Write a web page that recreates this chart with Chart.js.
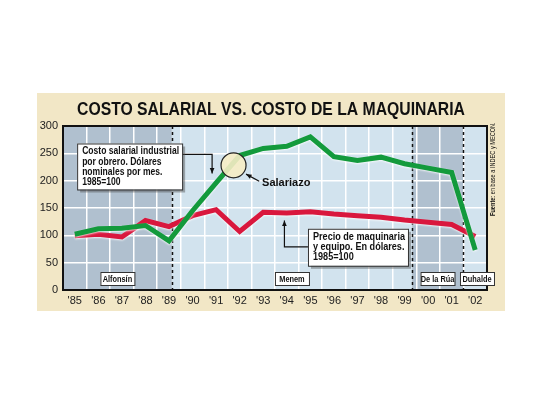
<!DOCTYPE html>
<html>
<head>
<meta charset="utf-8">
<script src="https://cdn.jsdelivr.net/npm/chart.js@4.4.1/dist/chart.umd.min.js"></script>
<style>
  html, body { margin: 0; padding: 0; background: #ffffff; }
  #wrap { width: 540px; height: 405px; }
</style>
</head>
<body>
<div id="wrap"><canvas id="chart" width="540" height="405"></canvas></div>
<script>
// Dati (1985 = 100)
const years = ["'85", "'86", "'87", "'88", "'89", "'90", "'91", "'92", "'93", "'94", "'95", "'96", "'97", "'98", "'99", "'00", "'01", "'02"];
const costoSalarial = [102, 112, 113, 118, 90, 145, 196, 246, 259, 263, 280, 244, 237, 243, 231, 223, 215, 73];
const precioMaquinaria = [99, 102, 97, 127, 116, 136, 147, 107, 142, 141, 143, 139, 136, 133, 128, 124, 120, 98];
const yTicks = [0, 50, 100, 150, 200, 250, 300];

// Gobiernos: inicio de cada período sobre el eje de años (posición decimal)
const gobiernos = ['Alfonsín', 'Menem', 'De la Rúa', 'Duhalde'];
const inicioGobierno = [-0.5, 4.12, 14.32, 16.48];

const PANEL = '#f2e7c6';
const OSCURO = '#b0c0cf';
const CLARO = '#d2e3ee';
const FUENTE = '"Liberation Sans", Arial, sans-serif';

// Scrive un testo comprimendolo in orizzontale se supera maxW
function textoAjustado(ctx, s, x, y, maxW, k) {
  const w = ctx.measureText(s).width;
  const f = k || Math.min(1, maxW / w);
  ctx.save();
  ctx.translate(x, y);
  ctx.scale(f, 1);
  ctx.fillText(s, 0, 0);
  ctx.restore();
}

// Sfondo, periodi e annotazioni
const decoraciones = {
  id: 'decoraciones',
  beforeDraw(chart) {
    const { ctx, chartArea: a, scales: { x } } = chart;
    ctx.save();
    ctx.fillStyle = PANEL;
    ctx.fillRect(37, 93, 468, 218);
    inicioGobierno.forEach((ini, i) => {
      const x0 = i === 0 ? a.left : x.getPixelForValue(ini);
      const x1 = i < inicioGobierno.length - 1 ? x.getPixelForValue(inicioGobierno[i + 1]) : a.right;
      ctx.fillStyle = i % 2 === 0 ? OSCURO : CLARO;
      ctx.fillRect(x0, a.top, x1 - x0, a.bottom - a.top);
    });
    // Titolo
    ctx.fillStyle = '#111';
    ctx.font = 'bold 18px ' + FUENTE;
    ctx.textAlign = 'center';
    ctx.textBaseline = 'middle';
    textoAjustado(ctx, 'COSTO SALARIAL VS. COSTO DE LA MAQUINARIA', 271, 110, 388);
    ctx.restore();
  },
  beforeDatasetsDraw(chart) {
    const { ctx, chartArea: a, scales: { x } } = chart;
    ctx.save();
    ctx.strokeStyle = '#111';
    ctx.lineWidth = 1.5;
    ctx.setLineDash([3, 3]);
    inicioGobierno.slice(1).forEach(ini => {
      const px = Math.round(x.getPixelForValue(ini)) + 0.5;
      ctx.beginPath();
      ctx.moveTo(px, a.top);
      ctx.lineTo(px, a.bottom);
      ctx.stroke();
    });
    ctx.restore();
  },
  afterDatasetsDraw(chart) {
    const { ctx, chartArea: a, scales: { x, y } } = chart;
    const px = v => x.getPixelForValue(v);
    const py = v => y.getPixelForValue(v);
    ctx.save();

    // Marco del área
    ctx.strokeStyle = '#111';
    ctx.lineWidth = 2;
    ctx.strokeRect(a.left, a.top, a.right - a.left, a.bottom - a.top);

    // Etiquetas de gobierno
    ctx.font = 'bold 9px ' + FUENTE;
    ctx.textAlign = 'center';
    ctx.textBaseline = 'middle';
    gobiernos.forEach((g, i) => {
      const ini = i === 0 ? -0.5 : inicioGobierno[i];
      const fin = i < gobiernos.length - 1 ? inicioGobierno[i + 1] : years.length - 0.5;
      const cx = px((ini + fin) / 2) + (i === 3 ? 2 : 0);
      const w = 34, h = 13, top = py(0) - 18;
      ctx.fillStyle = '#ffffff';
      ctx.fillRect(cx - w / 2, top, w, h);
      ctx.strokeStyle = '#333';
      ctx.lineWidth = 1;
      ctx.strokeRect(cx - w / 2 + 0.5, top + 0.5, w, h);
      ctx.fillStyle = '#111';
      textoAjustado(ctx, g, cx, top + h / 2 + 1, w - 5, 0.82);
    });

    // Cuadros de texto
    const cuadro = (xi, yv, w, h, lineas) => {
      const l = px(xi), t = py(yv);
      ctx.fillStyle = 'rgba(80,80,80,0.45)';
      ctx.fillRect(l + 3, t + 3, w, h);
      ctx.fillStyle = '#ffffff';
      ctx.fillRect(l, t, w, h);
      ctx.strokeStyle = '#333';
      ctx.lineWidth = 1;
      ctx.strokeRect(l + 0.5, t + 0.5, w, h);
      ctx.fillStyle = '#111';
      ctx.font = 'bold 10px ' + FUENTE;
      ctx.textAlign = 'left';
      ctx.textBaseline = 'middle';
      const maxW = Math.max(...lineas.map(s => ctx.measureText(s).width));
      const k = Math.min(1, (w - 8) / maxW);
      lineas.forEach((s, j) => textoAjustado(ctx, s, l + 5, t + 8 + j * 10.3, w, k));
    };
    const flecha = (pts) => {
      ctx.strokeStyle = '#111';
      ctx.fillStyle = '#111';
      ctx.lineWidth = 1.2;
      ctx.beginPath();
      ctx.moveTo(pts[0][0], pts[0][1]);
      pts.slice(1).forEach(p => ctx.lineTo(p[0], p[1]));
      ctx.stroke();
      const [xa, ya] = pts[pts.length - 2], [xb, yb] = pts[pts.length - 1];
      const ang = Math.atan2(yb - ya, xb - xa);
      ctx.beginPath();
      ctx.moveTo(xb, yb);
      ctx.lineTo(xb - 6 * Math.cos(ang - 0.4), yb - 6 * Math.sin(ang - 0.4));
      ctx.lineTo(xb - 6 * Math.cos(ang + 0.4), yb - 6 * Math.sin(ang + 0.4));
      ctx.closePath();
      ctx.fill();
    };

    flecha([[px(0.1) + 105, py(248)], [px(5.83), py(248)], [px(5.83), py(213)]]);
    cuadro(0.1, 268, 105, 46, ['Costo salarial industrial', 'por obrero. Dólares', 'nominales por mes.', '1985=100']);

    flecha([[px(9.9), py(79)], [px(8.9), py(79)], [px(8.9), py(127)]]);
    cuadro(9.9, 112, 100, 37, ['Precio de maquinaria', 'y equipo. En dólares.', '1985=100']);

    // Círculo "Salariazo"
    ctx.beginPath();
    ctx.arc(px(6.74), py(228), 12.5, 0, Math.PI * 2);
    ctx.fillStyle = 'rgba(246,236,196,0.9)';
    ctx.fill();
    ctx.strokeStyle = '#222';
    ctx.lineWidth = 1.2;
    ctx.stroke();
    flecha([[px(7.83), py(199)], [px(7.27), py(212)]]);
    ctx.fillStyle = '#111';
    ctx.font = 'bold 11px ' + FUENTE;
    ctx.textAlign = 'left';
    ctx.textBaseline = 'middle';
    ctx.fillText('Salariazo', px(7.95), py(195));

    // Fuente (vertical)
    ctx.translate(493, 216);
    ctx.rotate(-Math.PI / 2);
    ctx.scale(0.8, 1);
    ctx.textBaseline = 'middle';
    ctx.font = 'bold 7px ' + FUENTE;
    ctx.fillText('Fuente:', 0, 0);
    const w0 = ctx.measureText('Fuente: ').width;
    ctx.font = '7px ' + FUENTE;
    ctx.fillText('en base a INDEC y MECON.', w0, 0);
    ctx.restore();
  }
};

// Sombra clara bajo las líneas
const sombra = {
  id: 'sombra',
  beforeDatasetDraw(chart) {
    chart.ctx.save();
    chart.ctx.shadowColor = 'rgba(255,255,255,0.8)';
    chart.ctx.shadowBlur = 2;
    chart.ctx.shadowOffsetY = 1;
  },
  afterDatasetDraw(chart) {
    chart.ctx.restore();
  }
};

new Chart(document.getElementById('chart'), {
  type: 'line',
  data: {
    labels: years,
    datasets: [
      {
        label: 'Costo salarial industrial',
        data: costoSalarial,
        borderColor: '#139a3c',
        borderWidth: 5,
        pointRadius: 0,
        tension: 0,
        borderJoinStyle: 'miter'
      },
      {
        label: 'Precio de maquinaria y equipo',
        data: precioMaquinaria,
        borderColor: '#d9173d',
        borderWidth: 5,
        pointRadius: 0,
        tension: 0,
        borderJoinStyle: 'miter'
      }
    ]
  },
  options: {
    responsive: false,
    animation: false,
    layout: { padding: { left: 37, right: 53, top: 126, bottom: 95 } },
    plugins: {
      legend: { display: false },
      tooltip: { enabled: false },
      title: { display: false }
    },
    scales: {
      x: {
        offset: true,
        grid: { offset: true, color: '#ffffff', lineWidth: 1.5, drawTicks: false },
        border: { display: false },
        ticks: { color: '#222', padding: 4, font: { family: FUENTE, size: 11 }, maxRotation: 0, autoSkip: false },
        afterFit(s) { s.height = 20; }
      },
      y: {
        min: 0,
        max: 300,
        afterBuildTicks(s) { s.ticks = yTicks.map(v => ({ value: v })); },
        grid: { color: '#ffffff', lineWidth: 1.5, drawTicks: false },
        border: { display: false },
        ticks: { color: '#222', padding: 5, font: { family: FUENTE, size: 11 } },
        afterFit(s) { s.width = 26; }
      }
    }
  },
  plugins: [decoraciones, sombra]
});
</script>
</body>
</html>
